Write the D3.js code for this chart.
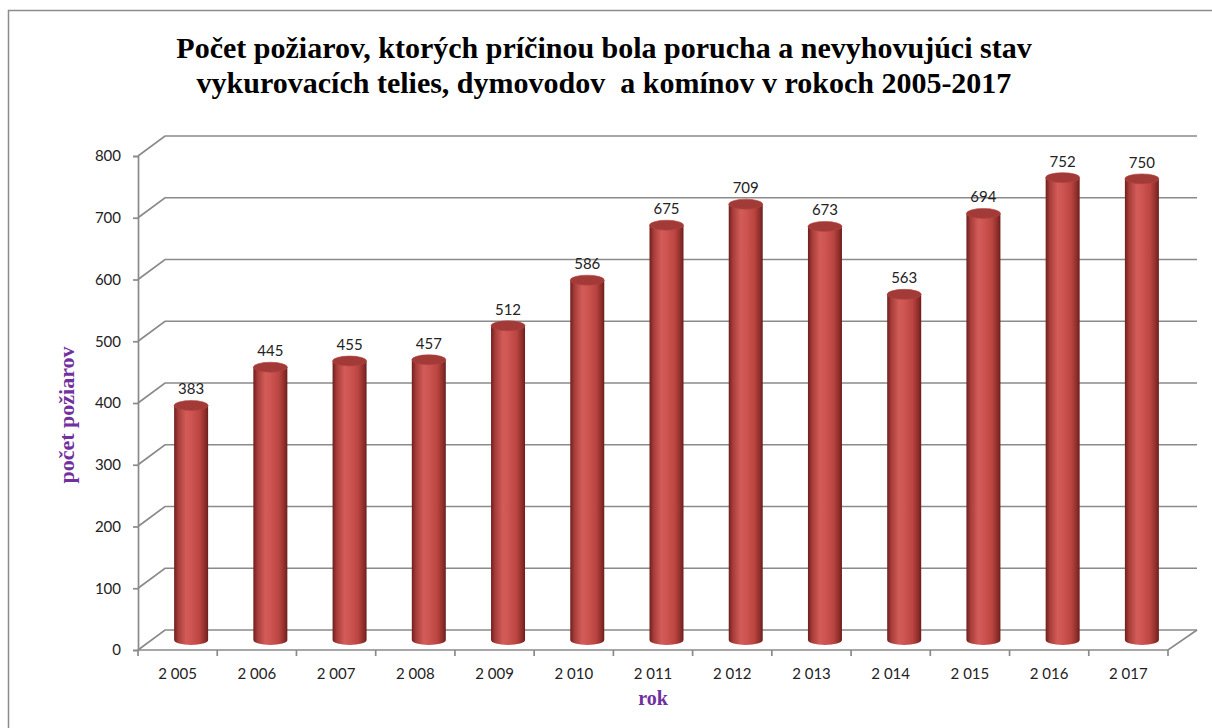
<!DOCTYPE html>
<html>
<head>
<meta charset="utf-8">
<script src="https://cdn.jsdelivr.net/npm/d3@7/dist/d3.min.js"></script>
<style>
  body { margin: 0; background: #fff; }
  svg { display: block; }
</style>
</head>
<body>
<div class="layout"></div>
<script>
var years = [2005, 2006, 2007, 2008, 2009, 2010, 2011, 2012, 2013, 2014, 2015, 2016, 2017];
var fires = [383, 445, 455, 457, 512, 586, 675, 709, 673, 563, 694, 752, 750];
var yTicks = [0, 100, 200, 300, 400, 500, 600, 700, 800];
var titleLines = ["Počet požiarov, ktorých príčinou bola porucha a nevyhovujúci stav",
                  "vykurovacích telies, dymovodov  a komínov v rokoch 2005-2017"];

var width = 1212, height = 728;
var depthX = 27, depthY = -20;   // 3D wall offset

var x = d3.scaleBand()
    .domain(years)
    .range([138, 1168])
    .paddingInner(0);

var y = d3.scaleLinear()
    .domain([0, 800])
    .range([650, 156]);

var svg = d3.select(".layout").append("svg")
    .attr("width", width)
    .attr("height", height);

var defs = svg.append("defs");
var grad = defs.append("linearGradient")
    .attr("id", "cyl")
    .attr("x1", "0%").attr("x2", "100%")
    .attr("y1", "0%").attr("y2", "0%");
[["0%", "#6e1f1d"], ["12%", "#a63c39"], ["35%", "#d25c58"], ["50%", "#ce5552"],
 ["75%", "#bb4541"], ["92%", "#8c2d2a"], ["100%", "#6a1e1c"]].forEach(function(s) {
  grad.append("stop").attr("offset", s[0]).attr("stop-color", s[1]);
});

// chart frame
svg.append("rect")
    .attr("x", 8.5).attr("y", 10.5)
    .attr("width", 1300).attr("height", 800)
    .attr("fill", "none")
    .attr("stroke", "#8c8c8c")
    .attr("stroke-width", 1.5);

// title
svg.append("text")
    .attr("text-anchor", "middle")
    .attr("font-family", "Liberation Serif, Times New Roman, serif")
    .attr("font-weight", "bold")
    .attr("font-size", 30)
    .style("white-space", "pre")
    .selectAll("tspan")
    .data(titleLines)
  .enter().append("tspan")
    .attr("x", 604)
    .attr("y", function(d, i) { return 58 + i * 35; })
    .text(function(d) { return d; });

var grid = svg.append("g")
    .attr("stroke", "#8a8a8a")
    .attr("stroke-width", 1.7)
    .attr("fill", "none");

// back wall gridlines + side diagonals
yTicks.forEach(function(t) {
  var yy = y(t);
  grid.append("path")
      .attr("d", "M" + x.range()[0] + "," + yy +
                 "L" + (x.range()[0] + depthX) + "," + (yy + depthY) +
                 "L" + (x.range()[1] + depthX + 2) + "," + (yy + depthY));
});

// floor front edge and right diagonal
grid.append("path")
    .attr("d", "M" + x.range()[0] + "," + y(0) +
               "L" + x.range()[1] + "," + y(0) +
               "L" + (x.range()[1] + depthX + 2) + "," + (y(0) + depthY));

// y axis
var yAxis = d3.axisLeft(y)
    .tickValues(yTicks)
    .tickSize(5)
    .tickPadding(12)
    .tickFormat(d3.format("d"));

svg.append("g")
    .attr("class", "y axis")
    .attr("transform", "translate(" + x.range()[0] + ",0)")
    .call(yAxis)
    .call(function(g) {
      g.selectAll("path, line").attr("stroke", "#8a8a8a").attr("stroke-width", 1.7);
      g.selectAll("text")
          .attr("font-family", "Lato, Liberation Sans, sans-serif")
          .attr("font-size", 15)
          .attr("fill", "#222");
    });

// x axis ticks at band edges
var xg = svg.append("g").attr("class", "x axis");
xg.selectAll("line")
    .data(years.concat([null]))
  .enter().append("line")
    .attr("x1", function(d, i) { return x.range()[0] + i * x.step(); })
    .attr("x2", function(d, i) { return x.range()[0] + i * x.step(); })
    .attr("y1", y(0))
    .attr("y2", y(0) + 6)
    .attr("stroke", "#8a8a8a")
    .attr("stroke-width", 1.7);

xg.selectAll("text")
    .data(years)
  .enter().append("text")
    .attr("x", function(d) { return x(d) + x.bandwidth() / 2; })
    .attr("y", 679)
    .attr("text-anchor", "middle")
    .attr("font-family", "Lato, Liberation Sans, sans-serif")
    .attr("font-size", 15)
    .attr("fill", "#222")
    .text(function(d) { return String(d).slice(0, 1) + " " + String(d).slice(1); });

// cylinders
var rx = 17, ry = 5;
var bars = svg.append("g").attr("class", "bars")
    .selectAll("g")
    .data(years.map(function(yr, i) { return { year: yr, value: fires[i] }; }))
  .enter().append("g");

function cx(d) { return x(d.year) + x.bandwidth() / 2 + depthX / 2; }
function baseY() { return y(0) + depthY / 2; }
function topY(d) { return y(d.value) + depthY / 2 + 2; }

bars.append("path")
    .attr("fill", "url(#cyl)")
    .attr("d", function(d) {
      var c = cx(d), b = baseY(), t = topY(d);
      return "M" + (c - rx) + "," + t +
             "L" + (c - rx) + "," + b +
             "A" + rx + "," + ry + " 0 0 0 " + (c + rx) + "," + b +
             "L" + (c + rx) + "," + t + "Z";
    });

bars.append("ellipse")
    .attr("cx", cx)
    .attr("cy", topY)
    .attr("rx", rx)
    .attr("ry", ry)
    .attr("fill", "#a23a37")
    .attr("stroke", "#b5433f")
    .attr("stroke-width", 0.6);

bars.append("text")
    .attr("x", cx)
    .attr("y", function(d) { return topY(d) - 11; })
    .attr("text-anchor", "middle")
    .attr("font-family", "Lato, Liberation Sans, sans-serif")
    .attr("font-size", 15)
    .attr("fill", "#222")
    .text(function(d) { return d.value; });

// axis titles
svg.append("text")
    .attr("transform", "translate(74,415) rotate(-90)")
    .attr("text-anchor", "middle")
    .attr("font-family", "Liberation Serif, Times New Roman, serif")
    .attr("font-weight", "bold")
    .attr("font-size", 22)
    .attr("fill", "#7030a0")
    .text("počet požiarov");

svg.append("text")
    .attr("x", 653)
    .attr("y", 705)
    .attr("text-anchor", "middle")
    .attr("font-family", "Liberation Serif, Times New Roman, serif")
    .attr("font-weight", "bold")
    .attr("font-size", 20)
    .attr("fill", "#7030a0")
    .text("rok");
</script>
</body>
</html>
